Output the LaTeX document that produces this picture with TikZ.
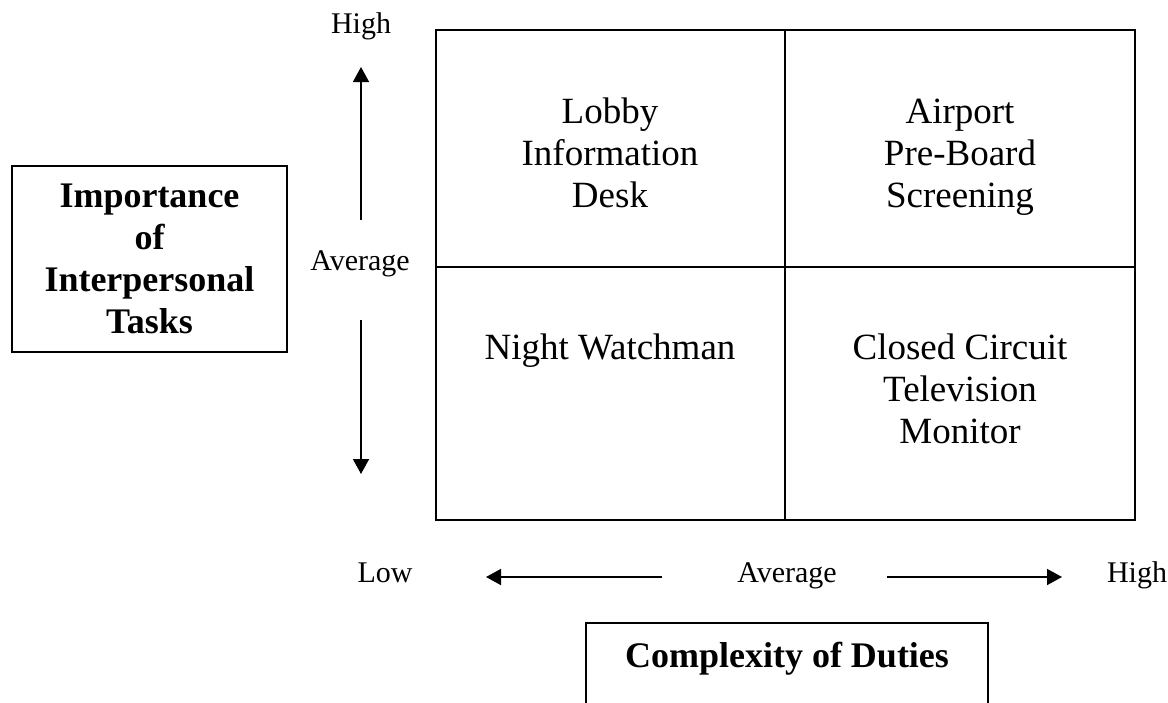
\documentclass[tikz,border=0pt]{standalone}
\usepackage{fontspec}
\setmainfont{Liberation Serif}
\usetikzlibrary{arrows.meta, positioning}

\begin{document}
\begin{tikzpicture}[x=1pt, y=-1pt,
  gridline/.style={line width=1.7pt, black},
  axisarrow/.style={line width=1.6pt, -{Triangle[length=15pt, width=16pt]}},
  celltext/.style={font=\fontsize{37}{42}\selectfont, align=center, inner sep=0pt},
  axistext/.style={font=\fontsize{30}{36}\selectfont, anchor=base, inner sep=0pt},
  titlebox/.style={draw, line width=1.5pt, font=\bfseries\fontsize{36}{42}\selectfont,
    align=center, inner sep=0pt}
]
  \useasboundingbox (0,0) rectangle (1168,702);

  %% Quadrant grid
  \draw[gridline] (436,30) rectangle (1135,520);
  \draw[gridline] (785,30) -- (785,520);
  \draw[gridline] (436,267) -- (1135,267);

  %% Quadrant labels
  \node[celltext] (lobby)   at (610,153) {Lobby\\Information\\Desk};
  \node[celltext] (airport) at (960,157) {Airport\\Pre-Board\\Screening};
  \node[celltext] (night)   at (610,351) {Night Watchman};
  \node[celltext] (cctv)    at (960,389) {Closed Circuit\\Television\\Monitor};

  %% Vertical axis
  \node[axistext] (yhigh) at (361,33) {High};
  \node[axistext] (yavg)  at (360,270) {Average};
  \coordinate (yupfrom) at (361,220);
  \coordinate (yupto)   at (361,67);
  \coordinate (ydnfrom) at (361,320);
  \coordinate (ydnto)   at (361,474);
  \draw[axisarrow] (yupfrom) -- (yupto);
  \draw[axisarrow] (ydnfrom) -- (ydnto);
  \node[titlebox, minimum width=275, minimum height=186] (ytitle) at (149.5,259)
    {Importance\\of\\Interpersonal\\Tasks};

  %% Horizontal axis
  \node[axistext] (xlow)  at (385,582) {Low};
  \node[axistext] (xavg)  at (787,582) {Average};
  \node[axistext] (xhigh) at (1137,582) {High};
  \coordinate (xlfrom) at (662,577);
  \coordinate (xlto)   at (486,577);
  \coordinate (xrfrom) at (887,577);
  \coordinate (xrto)   at (1062,577);
  \draw[axisarrow] (xlfrom) -- (xlto);
  \draw[axisarrow] (xrfrom) -- (xrto);

  %% X title box, bottom edge runs off the page
  \node[font=\bfseries\fontsize{36}{42}\selectfont, anchor=base, inner sep=0pt] (xtitle)
    at (787,667) {Complexity of Duties};
  \draw[line width=1.5pt] (586,720) |- (988,623) -- (988,720);

\end{tikzpicture}
\end{document}
